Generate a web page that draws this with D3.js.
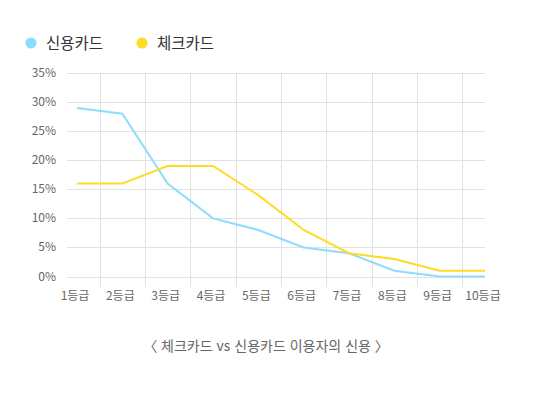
<!DOCTYPE html>
<html lang="ko">
<head>
<meta charset="UTF-8">
<script src="https://cdn.jsdelivr.net/npm/d3@7"></script>
<style>
  body { margin: 0; background: #fff; font-family: "Noto Sans CJK KR", "Noto Sans", sans-serif; }
  .grid line { stroke: #e2e2e2; stroke-width: 1; shape-rendering: crispEdges; }
  .grid path { display: none; }
  .tick-label { fill: #666; font-size: 12px; }
  .line { fill: none; stroke-width: 2; }
</style>
</head>
<body>
<svg id="chart" width="553" height="393"></svg>
<script>
// chart data
const grades = ["1등급", "2등급", "3등급", "4등급", "5등급", "6등급", "7등급", "8등급", "9등급", "10등급"];
const creditCard = [29, 28, 16, 10, 8, 5, 4, 1, 0, 0];
const checkCard = [16, 16, 19, 19, 14, 8, 4, 3, 1, 1];
const yTicks = [0, 5, 10, 15, 20, 25, 30, 35];
const seriesNames = ["신용카드", "체크카드"];
const colors = ["#8fdbff", "#ffdb24"];
const caption = "〈 체크카드 vs 신용카드 이용자의 신용 〉";

const svg = d3.select("#chart");
const plotLeft = 67, plotRight = 485, plotTop = 73, plotBottom = 276.5;

const x = d3.scalePoint().domain(grades).range([77, 485]);
const y = d3.scaleLinear().domain([0, 35]).range([plotBottom, plotTop]);

// horizontal grid
svg.append("g")
  .attr("class", "grid")
  .selectAll("line")
  .data(yTicks)
  .join("line")
  .attr("x1", plotLeft)
  .attr("x2", plotRight)
  .attr("y1", d => Math.round(y(d)) + 0.5)
  .attr("y2", d => Math.round(y(d)) + 0.5)
  .attr("stroke", d => d === 0 ? "#b0b0b0" : "#e2e2e2");

// vertical grid between categories
const step = x.step();
svg.append("g")
  .attr("class", "grid")
  .selectAll("line")
  .data(grades.slice(0, -1))
  .join("line")
  .attr("x1", d => Math.round(x(d) + step / 2) + 0.5)
  .attr("x2", d => Math.round(x(d) + step / 2) + 0.5)
  .attr("y1", plotTop)
  .attr("y2", plotBottom + 10)
  .attr("stroke", "#dedede");

// y labels
svg.append("g")
  .selectAll("text")
  .data(yTicks)
  .join("text")
  .attr("class", "tick-label")
  .attr("x", 56)
  .attr("y", d => y(d) + 4)
  .attr("text-anchor", "end")
  .text(d => d + "%");

// x labels
svg.append("g")
  .selectAll("text")
  .data(grades)
  .join("text")
  .attr("class", "tick-label")
  .attr("x", d => x(d) - 2)
  .attr("y", 300)
  .attr("text-anchor", "middle")
  .text(d => d);

// lines
const line = d3.line()
  .x((d, i) => x(grades[i]))
  .y(d => y(d));

[creditCard, checkCard].forEach((vals, i) => {
  svg.append("path")
    .datum(vals)
    .attr("class", "line")
    .attr("stroke", colors[i])
    .attr("d", line);
});

// legend
const legendX = [31, 142];
seriesNames.forEach((name, i) => {
  svg.append("circle")
    .attr("cx", legendX[i])
    .attr("cy", 43)
    .attr("r", 5.5)
    .attr("fill", colors[i]);
  svg.append("text")
    .attr("x", legendX[i] + 15)
    .attr("y", 49)
    .attr("fill", "#333")
    .style("font-size", "15.5px")
    .text(name);
});

// caption
svg.append("text")
  .attr("x", 266)
  .attr("y", 351)
  .attr("text-anchor", "middle")
  .attr("fill", "#666")
  .style("font-size", "14px")
  .text(caption);
</script>
</body>
</html>
